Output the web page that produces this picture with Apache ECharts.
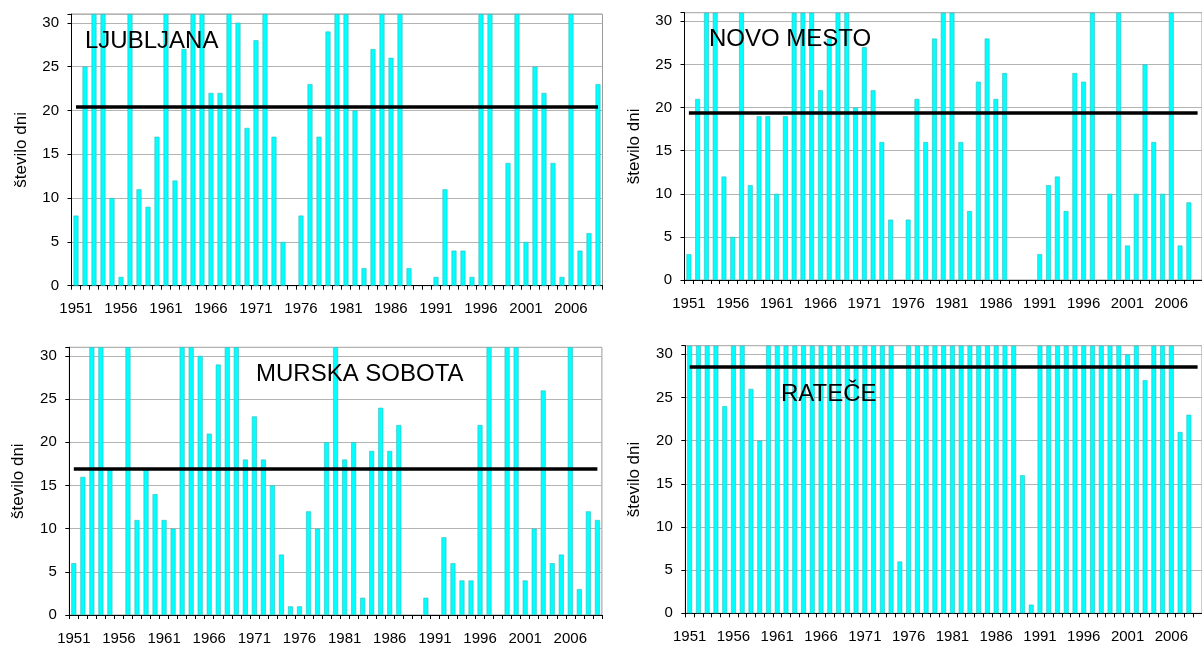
<!DOCTYPE html>
<html>
<head>
<meta charset="utf-8">
<script src="https://cdn.jsdelivr.net/npm/echarts/dist/echarts.min.js"></script>
<style>
  html, body { margin: 0; padding: 0; background: #fff; }
  #chart { width: 1202px; height: 646px; }
</style>
</head>
<body>
<div id="chart"></div>
<script>
// ---- DATA ----
const years = ['1951','1952','1953','1954','1955','1956','1957','1958','1959','1960',
  '1961','1962','1963','1964','1965','1966','1967','1968','1969','1970',
  '1971','1972','1973','1974','1975','1976','1977','1978','1979','1980',
  '1981','1982','1983','1984','1985','1986','1987','1988','1989','1990',
  '1991','1992','1993','1994','1995','1996','1997','1998','1999','2000',
  '2001','2002','2003','2004','2005','2006','2007','2008','2009'];

const stations = ['LJUBLJANA', 'NOVO MESTO', 'MURSKA SOBOTA', 'RATEČE'];

const ljubljana = [8,25,31,31,10,1,31,11,9,17,
  31,12,27,31,31,22,22,31,30,18,
  28,31,17,5,0,8,23,17,29,31,
  31,20,2,27,31,26,31,2,0,0,
  1,11,4,4,1,31,31,0,14,31,
  5,25,22,14,1,31,4,6,23];

const novoMesto = [3,21,31,31,12,5,31,11,19,19,
  10,19,31,31,31,22,28,31,31,20,
  27,22,16,7,0,7,21,16,28,31,
  31,16,8,23,28,21,24,0,0,0,
  3,11,12,8,24,23,31,0,10,31,
  4,10,25,16,10,31,4,9,null];

const murskaSobota = [6,16,31,31,17,0,31,11,17,14,
  11,10,31,31,30,21,29,31,31,18,
  23,18,15,7,1,1,12,10,20,31,
  18,20,2,19,24,19,22,0,0,2,
  0,9,6,4,4,22,31,0,31,31,
  4,10,26,6,7,31,3,12,11];

const ratece = [31,31,31,31,24,31,31,26,20,31,
  31,31,31,31,31,31,31,31,31,31,
  31,31,31,31,6,31,31,31,31,31,
  31,31,31,31,31,31,31,31,16,1,
  31,31,31,31,31,31,31,31,31,31,
  30,31,27,31,31,31,21,23,null];

const means = [20.4, 19.4, 16.9, 28.6];
const yTicks = [0, 5, 10, 15, 20, 25, 30];
const yName = 'število dni';

// ---- LAYOUT ----
const seriesData = [ljubljana, novoMesto, murskaSobota, ratece];
const grids = [
  { left: 71.5, top: 14,    width: 531,   height: 271.7 },
  { left: 684.5, top: 12.7, width: 527,   height: 267.3 },
  { left: 69.3, top: 347.3, width: 532.6, height: 270.4 },
  { left: 685.3, top: 345.7, width: 524,  height: 267.6 }
];
const titlePos = [
  { x: 85,  y: 41 },
  { x: 709, y: 39 },
  { x: 256, y: 374 },
  { x: 781, y: 394 }
];
const FONT = '"Liberation Sans", Arial, sans-serif';

const chart = echarts.init(document.getElementById('chart'), null, { renderer: 'canvas' });

const barStyle = { color: '#00ffff', borderColor: '#33bbbb', borderWidth: 0.6 };

const option = {
  animation: false,
  backgroundColor: '#ffffff',
  grid: grids.map(g => Object.assign({
    show: true, borderColor: '#9a9a9a', borderWidth: 1, backgroundColor: 'transparent', containLabel: false
  }, g)),
  xAxis: grids.map((g, i) => ({
    type: 'category',
    gridIndex: i,
    data: years,
    boundaryGap: true,
    axisLine: { show: true, lineStyle: { color: '#000', width: 1 } },
    axisTick: { show: true, interval: 0, length: 4, lineStyle: { color: '#000', width: 1 } },
    axisLabel: { interval: 4, fontSize: 15, color: '#000', margin: 16, fontFamily: FONT },
    splitLine: { show: false }
  })),
  yAxis: grids.map((g, i) => ({
    type: 'value',
    gridIndex: i,
    min: 0, max: 31, interval: 5,
    name: yName,
    nameLocation: 'middle',
    nameGap: 42,
    nameTextStyle: { fontSize: 17, color: '#000', fontFamily: FONT },
    axisLine: { show: true, lineStyle: { color: '#000', width: 1 } },
    axisTick: { show: true, length: 4, lineStyle: { color: '#000' } },
    axisLabel: {
      fontSize: 15, color: '#000', margin: 12.5, fontFamily: FONT,
      formatter: v => (yTicks.indexOf(v) >= 0 ? String(v) : '')
    },
    splitLine: { show: true, lineStyle: { color: '#b4b4b4', width: 1 } }
  })),
  series: seriesData.map((d, i) => ({
    type: 'bar',
    xAxisIndex: i,
    yAxisIndex: i,
    data: d.map(v => (v === 0 ? { value: 0, itemStyle: { borderWidth: 0, opacity: 0 } } : v)),
    barWidth: '55%',
    itemStyle: barStyle,
    markLine: {
      silent: true,
      symbol: ['none', 'none'],
      label: { show: false },
      lineStyle: { color: '#000', width: 3.5, type: 'solid' },
      data: [[
        { coord: [years[0], means[i]] },
        { coord: [years[years.length - 1], means[i]] }
      ]]
    }
  })),
  graphic: stations.map((s, i) => ({
    type: 'text',
    x: titlePos[i].x,
    y: titlePos[i].y,
    z: 100,
    style: {
      text: s,
      font: '24px ' + FONT,
      fill: '#000',
      textVerticalAlign: 'middle',
      verticalAlign: 'middle'
    }
  }))
};

chart.setOption(option);
</script>
</body>
</html>
